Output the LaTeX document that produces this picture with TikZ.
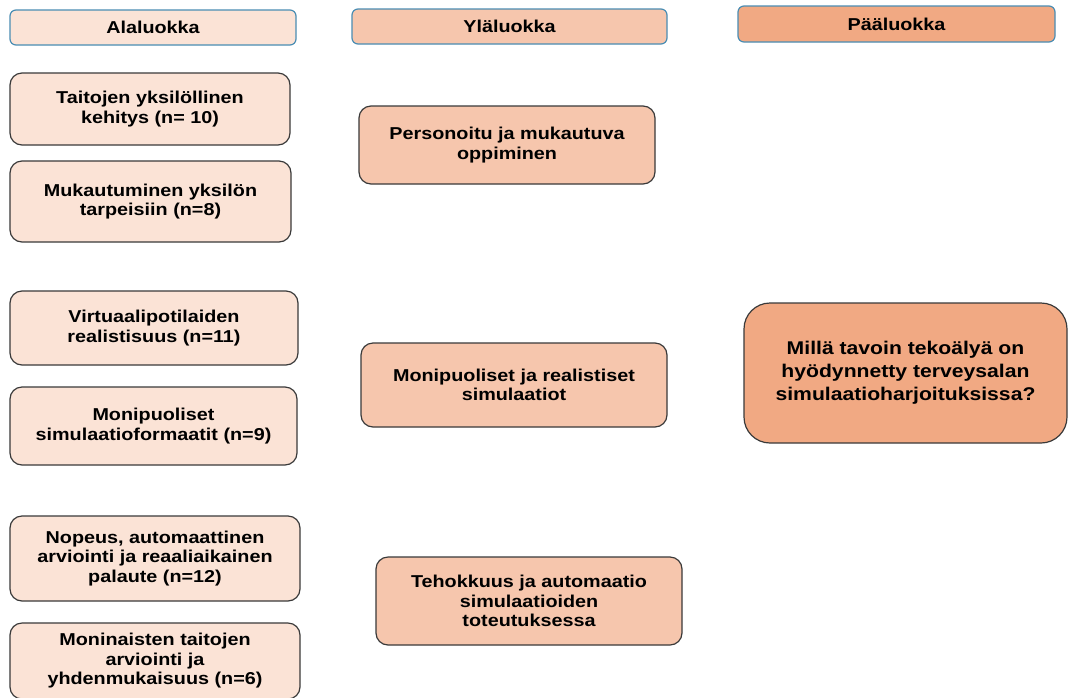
\documentclass[tikz,border=0pt]{standalone}
\usepackage{fontspec}
\setmainfont[FakeStretch=1.15]{Liberation Sans}
\definecolor{lightfill}{HTML}{FBE3D6}
\definecolor{midfill}{HTML}{F6C6AD}
\definecolor{darkfill}{HTML}{F1A983}
\definecolor{headborder}{HTML}{4A8DB3}
\definecolor{boxborder}{HTML}{3A3A3A}
\tikzset{
  basebox/.style={rounded corners=12pt, line width=1.2pt, draw=boxborder, align=center, inner sep=0pt,
    font=\fontsize{17.2}{19.5}\selectfont\bfseries},
  headbox/.style={basebox, rounded corners=6pt, draw=headborder},
  lowbox/.style={basebox, fill=lightfill},
  midbox/.style={basebox, fill=midfill},
  mainbox/.style={basebox, fill=darkfill, rounded corners=26pt,
    font=\fontsize{18.4}{23}\selectfont\bfseries},
}
\begin{document}
\begin{tikzpicture}[x=1pt,y=-1pt]
\useasboundingbox[fill=white] (0,0) rectangle (1068,697);
% headers
\node[headbox, fill=lightfill, minimum width=286pt, minimum height=35pt] (h1) at (153,27.5) {Alaluokka};
\node[headbox, fill=midfill, minimum width=315pt, minimum height=35pt] (h2) at (509.5,26.5) {Yläluokka};
\node[headbox, fill=darkfill, minimum width=317pt, minimum height=36pt] (h3) at (896.5,24) {Pääluokka};
% lower categories
\node[lowbox, minimum width=280pt, minimum height=72pt] (a1) at (150,109) {Taitojen yksilöllinen\\kehitys (n= 10)};
\node[lowbox, minimum width=281pt, minimum height=81pt] (a2) at (150.5,201.5) {Mukautuminen yksilön\\tarpeisiin (n=8)};
\node[lowbox, minimum width=288pt, minimum height=74pt] (a3) at (154,328) {Virtuaalipotilaiden\\realistisuus (n=11)};
\node[lowbox, minimum width=287pt, minimum height=78pt] (a4) at (153.5,426) {Monipuoliset\\simulaatioformaatit (n=9)};
\node[lowbox, minimum width=290pt, minimum height=85pt] (a5) at (155,558.5) {Nopeus, automaattinen\\arviointi ja reaaliaikainen\\palaute (n=12)};
\node[lowbox, minimum width=290pt, minimum height=76pt] (a6) at (155,661) {Moninaisten taitojen\\arviointi ja\\yhdenmukaisuus (n=6)};
% upper categories
\node[midbox, minimum width=296pt, minimum height=78pt] (m1) at (507,145) {Personoitu ja mukautuva\\oppiminen};
\node[midbox, minimum width=306pt, minimum height=84pt] (m2) at (514,385) {Monipuoliset ja realistiset\\simulaatiot};
\node[midbox, minimum width=306pt, minimum height=88pt] (m3) at (529,601) {Tehokkuus ja automaatio\\simulaatioiden\\toteutuksessa};
% main category
\node[mainbox, minimum width=323pt, minimum height=140pt] (p) at (905.5,373) {Millä tavoin tekoälyä on\\hyödynnetty terveysalan\\simulaatioharjoituksissa?};
\end{tikzpicture}
\end{document}
